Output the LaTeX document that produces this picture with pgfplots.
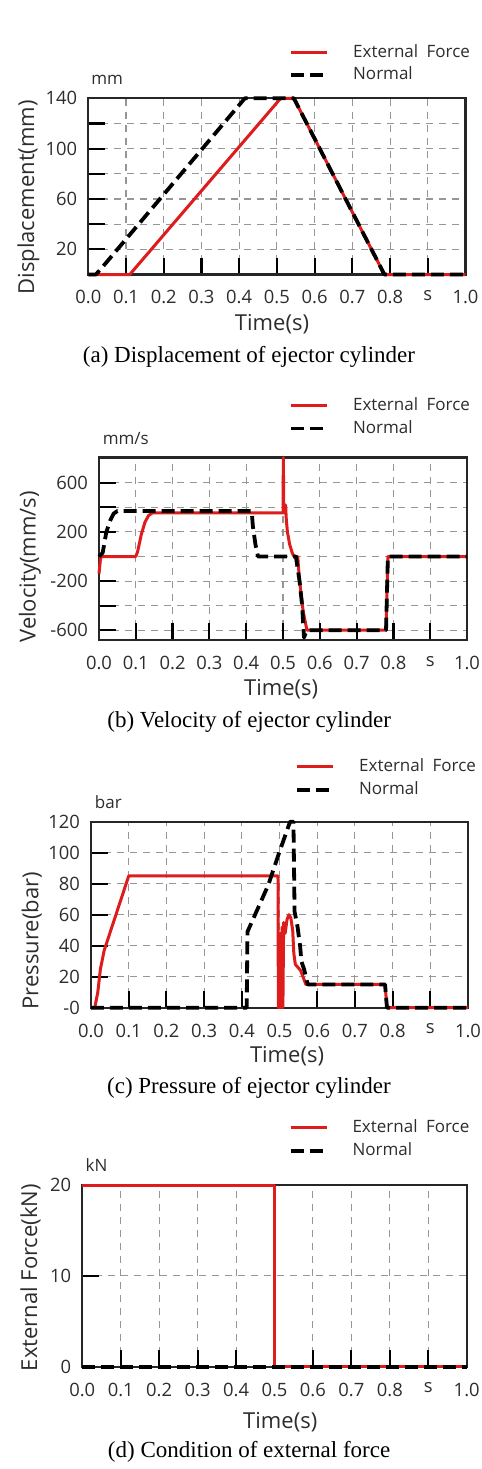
\documentclass[border=0pt]{standalone}
\usepackage{fontspec}
\setmainfont{Liberation Serif}
\newfontfamily\chartfont{Open Sans}
\usepackage{pgfplots}
\pgfplotsset{compat=1.18}

\definecolor{extred}{RGB}{222,28,28}
\definecolor{gridgray}{RGB}{150,150,150}
\definecolor{txtgray}{RGB}{45,45,45}

\tikzset{
  unitlbl/.style={font=\chartfont\fontsize{8.5}{10}\selectfont, text=txtgray},
  captiontext/.style={font=\fontsize{11.5}{13}\selectfont, text=black},
}

\pgfplotsset{
  ejector/.style={
    scale only axis,
    anchor=south west,
    clip=false,
    xmin=0, xmax=1,
    xtick={0,0.1,0.2,0.3,0.4,0.5,0.6,0.7,0.8,0.9,1},
    xticklabels={0.0,0.1,0.2,0.3,0.4,0.5,0.6,0.7,0.8,s,1.0},
    tick align=inside,
    xtick pos=bottom, ytick pos=left,
    major tick length=8.5pt,
    every tick/.style={black, line width=1.1pt},
    axis line style={line width=1.1pt, black!85},
    grid=major,
    major grid style={gridgray, line width=0.55pt, dash pattern=on 3.5pt off 3pt},
    tick label style={font=\chartfont\fontsize{9.2}{11}\selectfont, text=txtgray},
    xticklabel style={yshift=-4.5pt},
    yticklabel style={xshift=-2pt},
    label style={font=\chartfont\fontsize{11}{13}\selectfont, text=txtgray},
    xlabel={Time(s)},
    legend style={anchor=north west, draw=none, fill=none, inner sep=0pt,
      row sep=3.5pt, column sep=12pt,
      nodes={inner sep=0pt, text=txtgray},
      font=\chartfont\fontsize{8.5}{10}\selectfont},
    legend cell align=left,
    legend image code/.code={\draw[##1] (0pt,0pt) -- (18pt,0pt);},
  },
  extforce/.style={extred, line width=1.5pt, line join=round},
  normal/.style={black, line width=1.9pt, line join=round, dash pattern=on 6.5pt off 3pt},
}

\begin{document}
\begin{tikzpicture}
\path[use as bounding box] (0pt,0pt) rectangle (241pt,-734.5pt);

% (a) displacement
\begin{axis}[ejector, at={(44.15pt,-137.25pt)}, width=188.6pt, height=88.1pt,
  ymin=0, ymax=140, ytick={0,20,...,140}, yticklabels={,20,,60,,100,,140},
  ylabel={Displacement(mm)},
  ylabel style={at={(axis description cs:-0.159,0.438)}, anchor=center},
  xlabel style={at={(axis description cs:0.487,-0.282)}, anchor=center},
  legend style={at={(axis description cs:0.532,1.31)}}]
\addplot[extforce] coordinates {(0,0) (0.11,0) (0.51,140) (0.545,140) (0.785,0) (1,0)};
\addplot[normal] coordinates {(0,0) (0.02,0) (0.035,5) (0.415,140) (0.545,140) (0.785,0) (1,0)};
\addlegendentry{External\hspace{0.5em}Force}
\addlegendentry{Normal}
\node[unitlbl] at (axis description cs:0.05,1.107) {mm};
\node[captiontext] at (axis description cs:0.426,-0.47) {(a) Displacement of ejector cylinder};
\end{axis}

% (b) velocity
\begin{axis}[ejector, at={(49.5pt,-320pt)}, width=184pt, height=91.25pt,
  ymin=-680, ymax=806, ytick={-600,-400,...,600}, yticklabels={-600,,-200,,200,,600},
  ylabel={Velocity(mm/s)},
  ylabel style={at={(axis description cs:-0.1875,0.40)}, anchor=center},
  xlabel style={at={(axis description cs:0.495,-0.272)}, anchor=center},
  legend style={at={(axis description cs:0.516,1.33)}}]
\addplot[extforce] coordinates {(0,-140) (0.004,-20) (0.006,0) (0.1,0) (0.105,40) (0.115,180)
  (0.125,280) (0.135,335) (0.145,355) (0.5,355) (0.501,806) (0.502,400) (0.505,350) (0.507,420)
  (0.509,300) (0.512,200) (0.518,100) (0.525,30) (0.53,0) (0.54,0) (0.545,-200) (0.555,-450)
  (0.565,-600) (0.78,-600) (0.785,0) (1,0)};
\addplot[normal] coordinates {(0,0) (0.01,30) (0.02,200) (0.03,290) (0.04,350) (0.05,370)
  (0.415,370) (0.418,250) (0.425,100) (0.432,0) (0.535,0) (0.545,-200) (0.552,-400)
  (0.557,-660) (0.565,-600) (0.78,-600) (0.785,0) (1,0)};
\addlegendentry{External\hspace{0.5em}Force}
\addlegendentry{Normal}
\node[unitlbl] at (axis description cs:0.073,1.103) {mm/s};
\node[captiontext] at (axis description cs:0.408,-0.45) {(b) Velocity of ejector cylinder};
\end{axis}

% (c) pressure
\begin{axis}[ejector, at={(45.5pt,-503.85pt)}, width=188.5pt, height=93pt,
  ymin=0, ymax=120, ytick={0,20,...,120}, yticklabels={-0,20,40,60,80,100,120},
  ylabel={Pressure(bar)},
  ylabel style={at={(axis description cs:-0.157,0.36)}, anchor=center},
  xlabel style={at={(axis description cs:0.52,-0.262)}, anchor=center},
  legend style={at={(axis description cs:0.541,1.34)}}]
\addplot[extforce] coordinates {(0,0) (0.01,0) (0.018,10) (0.025,25) (0.035,37) (0.1,85)
  (0.496,85) (0.497,0) (0.499,45) (0.5,0) (0.503,48) (0.505,0) (0.507,52) (0.509,0)
  (0.511,55) (0.515,48) (0.52,57) (0.525,60) (0.53,58) (0.535,50) (0.538,35) (0.542,28)
  (0.556,24) (0.57,15) (0.78,15) (0.785,0) (1,0)};
\addplot[normal] coordinates {(0,0) (0.413,0) (0.415,49) (0.47,79) (0.497,98.5) (0.528,120)
  (0.537,120) (0.54,62) (0.548,52) (0.555,39) (0.558,30) (0.565,25) (0.575,15) (0.78,15)
  (0.785,0) (1,0)};
\addlegendentry{External\hspace{0.5em}Force}
\addlegendentry{Normal}
\node[unitlbl] at (axis description cs:0.046,1.106) {bar};
\node[captiontext] at (axis description cs:0.419,-0.43) {(c) Pressure of ejector cylinder};
\end{axis}

% (d) external force condition
\begin{axis}[ejector, at={(41.15pt,-683.35pt)}, width=192.2pt, height=90.85pt,
  ymin=0, ymax=20, ytick={0,10,20}, yticklabels={0,10,20},
  ylabel={External Force(kN)},
  ylabel style={at={(axis description cs:-0.135,0.49)}, anchor=center},
  xlabel style={at={(axis description cs:0.515,-0.305)}, anchor=center},
  legend style={at={(axis description cs:0.536,1.36)}}]
\addplot[extforce] coordinates {(0,20) (0.5,20) (0.5,0) (1,0)};
\addplot[normal] coordinates {(0,0) (1,0)};
\addlegendentry{External\hspace{0.5em}Force}
\addlegendentry{Normal}
\node[unitlbl] at (axis description cs:0.037,1.11) {kN};
\node[captiontext] at (axis description cs:0.434,-0.47) {(d) Condition of external force};
\end{axis}
\end{tikzpicture}
\end{document}
